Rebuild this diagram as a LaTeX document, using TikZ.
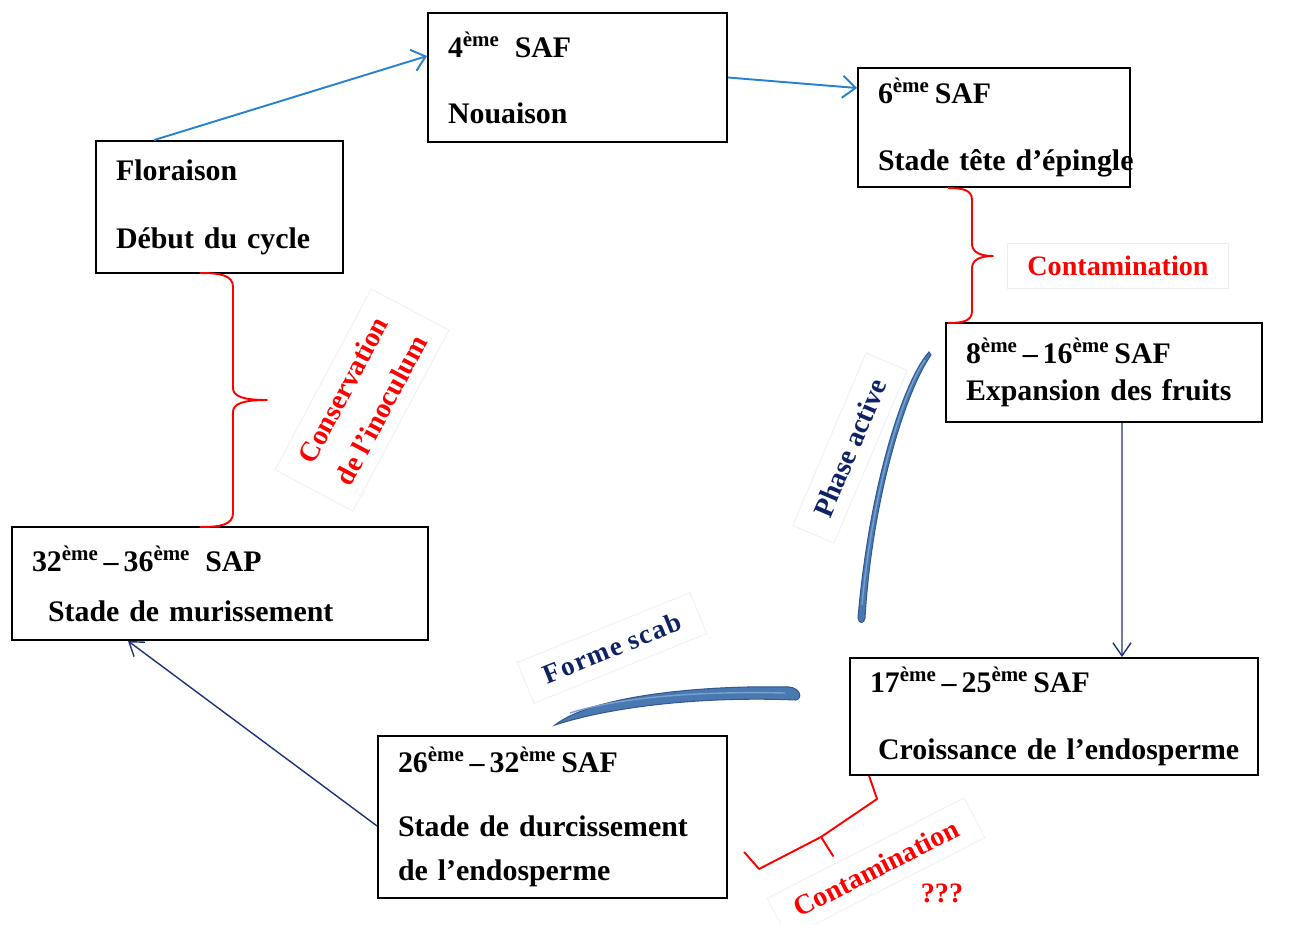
\documentclass[tikz,border=0pt]{standalone}
\usepackage{fontspec}
\setmainfont{Liberation Serif}
\usetikzlibrary{arrows.meta}

\definecolor{arrowblue}{RGB}{40,130,205}
\definecolor{navyline}{RGB}{30,50,120}
\definecolor{navytext}{RGB}{15,35,100}
\definecolor{bladefill}{RGB}{74,120,176}
\definecolor{bladeedge}{RGB}{50,90,145}
\definecolor{bladehi}{RGB}{120,160,210}
\definecolor{redmark}{RGB}{255,0,0}

\newcommand\supeme{\textsuperscript{ème}}

\tikzset{
  stage/.style={draw, line width=1.1pt, inner xsep=0.4cm, inner ysep=0pt, align=left, font=\fontsize{17}{21}\selectfont\bfseries},
  lab/.style={draw=black!7, inner xsep=0.4cm, inner ysep=0.25cm, font=\fontsize{16}{24}\selectfont\bfseries},
  flowlight/.style={-{Straight Barb[length=0.26cm,width=0.44cm]}, line width=1.1pt, arrowblue},
  flowdark/.style={-{Straight Barb[length=0.26cm,width=0.36cm]}, line width=0.8pt, navyline},
  curly/.style={redmark, line width=1.1pt, line join=round},
  blade/.style={fill=bladefill, draw=bladeedge, line width=0.6pt}
}

\begin{document}
\begin{tikzpicture}[x=0.02cm, y=-0.02cm]
\useasboundingbox (0,0) rectangle (1296,924);

% stages of the cycle
\node[stage, text width=4.14cm, minimum height=2.64cm] (flor) at (219.5,207) {Floraison\\[0.62cm]Début du cycle};
\node[stage, text width=5.18cm, minimum height=2.58cm] (noua) at (577.5,77.5) {4\supeme\enspace SAF\\[0.58cm]Nouaison};
\node[stage, text width=4.64cm, minimum height=2.38cm] (tete) at (994,127.5) {6\supeme\,SAF\\[0.6cm]\mbox{Stade tête d'épingle}};
\node[stage, text width=5.52cm, minimum height=1.98cm] (expa) at (1104,372.5) {8\supeme\,--\,16\supeme\,SAF\\Expansion des fruits};
\node[stage, text width=7.36cm, minimum height=2.34cm] (croi) at (1054,716.5) {17\supeme\,--\,25\supeme\,SAF\\[0.6cm]\mbox{\hspace*{0.16cm}Croissance de l'endosperme}};
\node[stage, text width=6.18cm, minimum height=3.24cm] (durc) at (552.5,817) {26\supeme\,--\,32\supeme\,SAF\\[0.54cm]Stade de durcissement\\[0.14cm]de l'endosperme};
\node[stage, text width=7.52cm, minimum height=2.26cm] (muri) at (220,583.5) {32\supeme\,--\,36\supeme\enspace SAP\\[0.26cm]\hspace*{0.32cm}Stade de murissement};

% arrows
\draw[flowlight] ([xshift=1.18cm]flor.north west) -- ([yshift=0.43cm]noua.west);
\draw[flowlight] (noua.east) -- ([yshift=0.79cm]tete.west);
\draw[flowdark] ([xshift=0.36cm]expa.south) -- ([xshift=1.36cm]croi.north);
\draw[flowdark] ([yshift=-0.18cm]durc.west) -- ([xshift=-1.84cm]muri.south);

% braces
\draw[curly] (948,188) .. controls (963,188) and (972,190) .. (972,200) -- (972,244) .. controls (972,252) and (980,256) .. (993,256)
  .. controls (980,256) and (972,260) .. (972,268) -- (972,311) .. controls (972,321) and (963,323) .. (948,323);
\draw[curly] (200,273) .. controls (220,273) and (233,275) .. (233,287) -- (233,388) .. controls (233,397) and (245,400) .. (267,400)
  .. controls (245,400) and (233,403) .. (233,412) -- (233,513) .. controls (233,525) and (220,527) .. (200,527);
\draw[curly] ([xshift=0.4cm]croi.south west) -- ++(8,23) -- ++(-56,38) coordinate (bk) -- ++(-62,32) -- ++(-15,-17);
\draw[curly, line cap=round] (bk) -- ++(12,19);

% blades
\draw[blade] (929,352) .. controls (905,378) and (870,480) .. (858,618) .. controls (859,624) and (864,624) .. (865,618) .. controls (872,500) and (905,392) .. (931,355) -- cycle;
\draw[bladehi, line width=0.8pt] (925,360) .. controls (902,392) and (872,495) .. (862,605);
\draw[blade] (555,725) .. controls (592,696) and (700,685) .. (789,687) .. controls (800,688) and (803,698) .. (796,700) .. controls (700,696) and (610,707) .. (555,725) -- cycle;
\draw[bladehi, line width=0.8pt] (570,713) .. controls (620,697) and (700,691) .. (785,693);

% labels
\node[lab, text=redmark] (conta) at (1118,266) {Contamination};
\node[lab, text=redmark, rotate=62, align=center, font=\fontsize{16}{24.5}\selectfont\bfseries] (conserv) at (362,400) {Conservation\\de l'inoculum};
\node[lab, text=navytext, rotate=67] (phase) at (850,448) {Phase active};
\node[lab, text=navytext, rotate=22, font=\fontsize{15.5}{18}\selectfont\bfseries\addfontfeatures{LetterSpace=5}] (scab) at (612,648) {Forme scab};
\node[lab, text=redmark, rotate=27] (contb) at (876,868) {Contamination};
\node[text=redmark, font=\fontsize{16}{20}\selectfont\bfseries] (doubt) at (942,893) {???};

\end{tikzpicture}
\end{document}
